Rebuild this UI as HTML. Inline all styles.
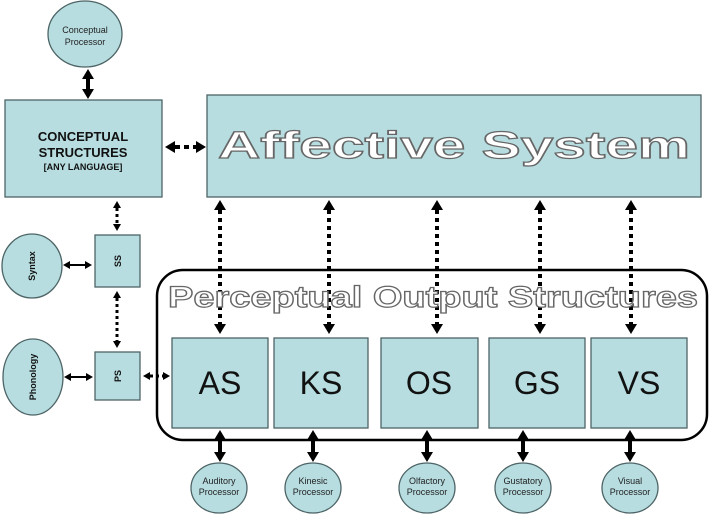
<!DOCTYPE html>
<html><head><style>body{margin:0;background:#fff}svg{display:block}</style></head><body>
<svg width="711" height="526" viewBox="0 0 711 526" xmlns="http://www.w3.org/2000/svg" font-family="Liberation Sans, sans-serif">
<defs>
<marker id="h" markerWidth="10" markerHeight="12" refX="0" refY="6" orient="auto-start-reverse" markerUnits="userSpaceOnUse"><path d="M0,0L10,6L0,12z" fill="#000"/></marker>
<marker id="s" markerWidth="7" markerHeight="8" refX="0" refY="4" orient="auto-start-reverse" markerUnits="userSpaceOnUse"><path d="M0,0L7,4L0,8z" fill="#000"/></marker>
</defs>
<g fill="#b7dde0" stroke="#4d6466" stroke-width="1.3">
<ellipse cx="85" cy="34" rx="37" ry="33"/>
<rect x="5" y="100" width="157" height="97"/>
<rect x="207" y="95" width="494" height="102"/>
<rect x="95" y="235" width="45" height="52"/>
<rect x="95" y="352" width="45" height="48"/>
<ellipse cx="32" cy="266" rx="30" ry="32"/>
<ellipse cx="33" cy="377" rx="30" ry="38"/>
</g>
<rect x="157" y="270" width="550" height="170" rx="26" fill="#fff" stroke="#000" stroke-width="2.5"/>
<g fill="#b7dde0" stroke="#4d6466" stroke-width="1.3">
<rect x="172" y="338" width="96" height="90"/>
<rect x="274" y="338" width="94" height="90"/>
<rect x="381" y="338" width="97" height="90"/>
<rect x="489" y="338" width="96" height="90"/>
<rect x="591" y="338" width="96" height="90"/>
<ellipse cx="219" cy="488" rx="28" ry="25"/>
<ellipse cx="313" cy="488" rx="28" ry="25"/>
<ellipse cx="427" cy="488" rx="28" ry="25"/>
<ellipse cx="523" cy="488" rx="28" ry="25"/>
<ellipse cx="630" cy="488" rx="28" ry="25"/>
</g>
<g stroke="#000" fill="none">
<line x1="88" y1="79" x2="88" y2="89" stroke-width="4" marker-start="url(#h)" marker-end="url(#h)"/>
<line x1="175" y1="147" x2="196" y2="147" stroke-width="4" stroke-dasharray="5,4" marker-start="url(#h)" marker-end="url(#h)"/>
<line x1="117" y1="208" x2="117" y2="224" stroke-width="3" stroke-dasharray="3,3" marker-start="url(#s)" marker-end="url(#s)"/>
<line x1="117" y1="298" x2="117" y2="341" stroke-width="3" stroke-dasharray="3,3" marker-start="url(#s)" marker-end="url(#s)"/>
<line x1="70" y1="265" x2="85" y2="265" stroke-width="2" marker-start="url(#s)" marker-end="url(#s)"/>
<line x1="71" y1="377" x2="86" y2="377" stroke-width="2" marker-start="url(#s)" marker-end="url(#s)"/>
<line x1="150" y1="376" x2="163" y2="376" stroke-width="3" stroke-dasharray="3,3" marker-start="url(#s)" marker-end="url(#s)"/>
<g stroke-width="4" stroke-dasharray="4,4" marker-start="url(#h)" marker-end="url(#h)">
<line x1="220" y1="210" x2="220" y2="324"/>
<line x1="329" y1="210" x2="329" y2="324"/>
<line x1="437" y1="210" x2="437" y2="324"/>
<line x1="540" y1="210" x2="540" y2="324"/>
<line x1="631" y1="210" x2="631" y2="324"/>
</g>
<g stroke-width="4" marker-start="url(#h)" marker-end="url(#h)">
<line x1="220" y1="440" x2="220" y2="452"/>
<line x1="313" y1="440" x2="313" y2="452"/>
<line x1="427" y1="440" x2="427" y2="452"/>
<line x1="523" y1="440" x2="523" y2="452"/>
<line x1="630" y1="440" x2="630" y2="452"/>
</g>
</g>
<g text-anchor="middle" fill="#222" font-size="9">
<text x="85" y="33">Conceptual</text><text x="85" y="45">Processor</text>
<text x="219" y="484">Auditory</text><text x="219" y="495">Processor</text>
<text x="313" y="484">Kinesic</text><text x="313" y="495">Processor</text>
<text x="427" y="484">Olfactory</text><text x="427" y="495">Processor</text>
<text x="523" y="484">Gustatory</text><text x="523" y="495">Processor</text>
<text x="630" y="484">Visual</text><text x="630" y="495">Processor</text>
</g>
<g text-anchor="middle" font-weight="bold" fill="#111">
<text x="83" y="141" font-size="13">CONCEPTUAL</text>
<text x="83" y="157" font-size="13">STRUCTURES</text>
<text x="83" y="170" font-size="9">[ANY LANGUAGE]</text>
<text font-size="9" transform="translate(121,261) rotate(-90)">SS</text>
<text font-size="9" transform="translate(121,376) rotate(-90)">PS</text>
<text font-size="9" transform="translate(35,266) rotate(-90)">Syntax</text>
<text font-size="9" transform="translate(36,377) rotate(-90)">Phonology</text>
</g>
<g text-anchor="middle" font-size="32" fill="#111">
<text x="220" y="394">AS</text><text x="321" y="394">KS</text><text x="429" y="394">OS</text><text x="537" y="394">GS</text><text x="639" y="394">VS</text>
</g>
<g font-weight="bold" fill="#fff" stroke="#666" stroke-width="1.2">
<text x="218" y="158" font-size="38" textLength="472" lengthAdjust="spacingAndGlyphs">Affective System</text>
<text x="168" y="307" font-size="30" textLength="530" lengthAdjust="spacingAndGlyphs">Perceptual Output Structures</text>
</g>
</svg>
</body></html>
